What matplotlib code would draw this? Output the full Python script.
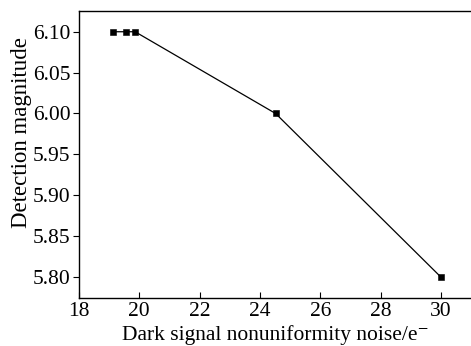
import numpy as np
import matplotlib.pyplot as plt

plt.rcParams['font.family'] = ['Liberation Serif', 'DejaVu Serif']

# data
noise = [19.14, 19.55, 19.86, 24.52, 30.0]
magnitude = [6.10, 6.10, 6.10, 6.00, 5.80]

xticks = [18, 20, 22, 24, 26, 28, 30]
yticks = [5.80, 5.85, 5.90, 5.95, 6.00, 6.05, 6.10]

fig = plt.figure(figsize=(4.71, 3.46), dpi=100)
ax = fig.add_axes([79/471, 0.1396, 1 - 79/471, 0.969 - 0.1396])

ax.plot(noise, magnitude, color='black', lw=0.9, marker='s', ms=4.6, mew=0.4)

ax.set_xlim(18, 31)
ax.set_ylim(5.7747, 6.1257)
ax.set_xticks(xticks)
ax.set_yticks(yticks)
ax.set_yticklabels(['%.2f' % v for v in yticks])

ax.spines['right'].set_visible(False)
for s in ['left', 'bottom', 'top']:
    ax.spines[s].set_linewidth(1.0)

ax.tick_params(axis='x', direction='in', length=4, labelsize=15.5, pad=3)
ax.tick_params(axis='y', direction='out', length=4, labelsize=15.5, pad=2)

ax.set_xlabel('Dark signal nonuniformity noise/e\u207b', fontsize=15.5, labelpad=3)
ax.set_ylabel('Detection magnitude', fontsize=16.5)
ax.yaxis.set_label_coords(-0.12, 0.575)

fig.savefig('out.png', dpi=100)
